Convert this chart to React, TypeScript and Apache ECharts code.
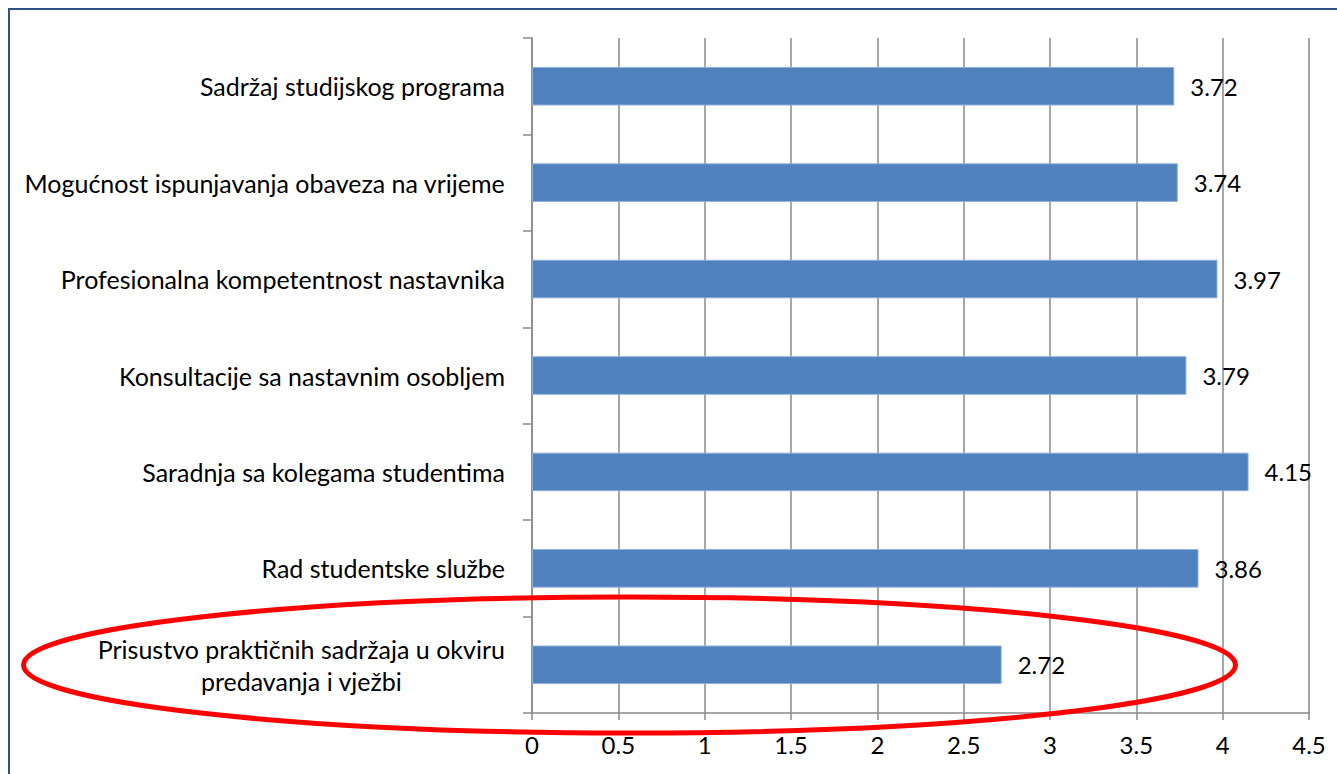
import React, { useEffect, useRef } from "react";
import * as echarts from "echarts";

const categories = [
  "Sadržaj studijskog programa",
  "Mogućnost ispunjavanja obaveza na vrijeme",
  "Profesionalna kompetentnost nastavnika",
  "Konsultacije sa nastavnim osobljem",
  "Saradnja sa kolegama studentima",
  "Rad studentske službe",
  "Prisustvo praktičnih sadržaja u okviru\npredavanja i vježbi",
];
const values = [3.72, 3.74, 3.97, 3.79, 4.15, 3.86, 2.72];
const axisMin = 0;
const axisMax = 4.5;
const axisStep = 0.5;

const FONT = "Lato, 'Open Sans', sans-serif";

export default function App() {
  const ref = useRef<HTMLDivElement>(null);
  useEffect(() => {
    if (!ref.current) return;
    const chart = echarts.init(ref.current, null, { renderer: "svg" });
    const gray = "#8A8A8A";
    chart.setOption({
      animation: false,
      backgroundColor: "#ffffff",
      grid: { left: 532, right: 28, top: 38, bottom: 61, containLabel: false },
      xAxis: {
        type: "value",
        min: axisMin,
        max: axisMax,
        interval: axisStep,
        axisLine: { show: true, lineStyle: { color: gray, width: 1.5 } },
        axisTick: { show: true, length: 7, lineStyle: { color: gray, width: 1.5 } },
        splitLine: { show: true, lineStyle: { color: gray, width: 1.5 } },
        axisLabel: { color: "#000", fontSize: 24, fontFamily: FONT, margin: 19 },
      },
      yAxis: {
        type: "category",
        inverse: true,
        data: categories,
        axisLine: { show: true, lineStyle: { color: gray, width: 1.5 } },
        axisTick: { show: true, length: 9, lineStyle: { color: gray, width: 1.5 } },
        axisLabel: {
          color: "#000",
          fontSize: 25,
          fontFamily: FONT,
          margin: 27,
          lineHeight: 32,
          formatter: (v: string) =>
            v
              .split("\n")
              .map((l) => `{c|${l}}`)
              .join("\n"),
          rich: {
            c: { align: "center", fontSize: 25, fontFamily: FONT, color: "#000", lineHeight: 32 },
          },
        },
      },
      series: [
        {
          type: "bar",
          data: values,
          barCategoryGap: "60%",
          itemStyle: { color: "#4F81BD", borderColor: "#8FB0DA", borderWidth: 1 },
          label: {
            show: true,
            position: "right",
            distance: 16,
            color: "#000",
            fontSize: 24,
            fontFamily: FONT,
          },
        },
      ],
      graphic: [
        {
          type: "rect",
          shape: { x: 9, y: 9, width: 1400, height: 800 },
          style: { fill: "none", stroke: "#2F5180", lineWidth: 2 },
          z: 100,
        },
        {
          type: "ellipse",
          shape: { cx: 629.5, cy: 665, rx: 606, ry: 68 },
          style: { fill: "none", stroke: "#FF0000", lineWidth: 5 },
          z: 100,
        },
      ],
    });
    return () => chart.dispose();
  }, []);
  return (
    <div
      ref={ref}
      style={{ position: "absolute", left: 0, top: 0, width: 1337, height: 774 }}
    />
  );
}
